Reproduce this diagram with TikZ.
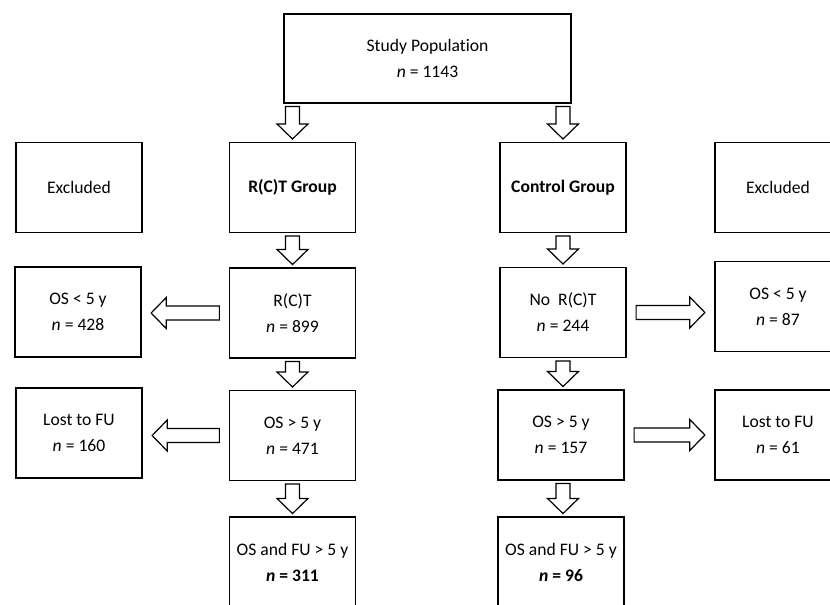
\documentclass[tikz,border=0pt]{standalone}
\usepackage{fontspec}
\setmainfont{Carlito}[Ligatures=NoCommon]
\usetikzlibrary{calc}
\tikzstyle{box}=[draw, line width=1.2pt, minimum width=94.5pt, minimum height=67.5pt, inner sep=2pt, align=center, font=\fontsize{13.2}{19.5}\selectfont]
\tikzstyle{fat}=[draw, line width=0.9pt, fill=white, line join=miter]
% hollow block arrow from #2 to #3, #1 = gap at both ends
\newcommand{\fatarrow}[3][2pt]{%
  \coordinate (fa-s) at ($(#2)!#1!(#3)$);
  \coordinate (fa-e) at ($(#3)!#1!(#2)$);
  \coordinate (fa-h) at ($(fa-e)!11.3pt!(fa-s)$);
  \path[fat] ($(fa-s)!5.3pt!90:(fa-e)$) -- ($(fa-h)!5.3pt!90:(fa-e)$) -- ($(fa-h)!11.6pt!90:(fa-e)$)
    -- (fa-e) -- ($(fa-h)!11.6pt!-90:(fa-e)$) -- ($(fa-h)!5.3pt!-90:(fa-e)$) -- ($(fa-s)!5.3pt!-90:(fa-e)$) -- cycle;}

\begin{document}
\begin{tikzpicture}[x=0.75pt,y=-0.75pt]
                    \node[box, minimum width=215pt, minimum height=66.75pt] (pop) at (427.5,58.5) {Study Population\\\textit{n} = 1143};

                    \node[box] (exl) at (79,187.5) {Excluded};
                    \node[box] (rctg) at (292.5,187.5) {\textbf{R(C)T Group}};
                    \node[box] (ctlg) at (563,187.5) {\textbf{Control Group}};
                    \node[box] (exr) at (778,187.5) {Excluded};

                    \node[box] (osl) at (78,312) {OS < 5 y\\\textit{n} = 428};
                    \node[box] (rct) at (292.5,313) {R(C)T\\\textit{n} = 899};
                    \node[box] (nrct) at (563,312.5) {No~ R(C)T\\\textit{n} = 244};
                    \node[box] (osr) at (778,306.5) {OS < 5 y\\\textit{n} = 87};

                    \node[box] (lostl) at (79,433) {Lost to FU\\\textit{n} = 160};
                    \node[box] (osgl) at (292.5,435.5) {OS > 5 y\\\textit{n} = 471};
                    \node[box] (osgr) at (561,435) {OS > 5 y\\\textit{n} = 157};
                    \node[box] (lostr) at (778,435) {Lost to FU\\\textit{n} = 61};

                    \node[box] (finl) at (292.5,562) {OS and FU > 5 y\\\textbf{\textit{n} = 311}};
                    \node[box] (finr) at (561,562) {OS and FU > 5 y\\\textbf{\textit{n} = 96}};

                    \fatarrow{pop.south -| rctg}{rctg.north}
                    \fatarrow{pop.south -| ctlg}{ctlg.north}
                    \fatarrow{rctg.south}{rct.north}
                    \fatarrow{ctlg.south}{nrct.north}
                    \fatarrow{rct.south}{osgl.north}
                    \fatarrow{nrct.south}{osgr.north -| nrct}
                    \fatarrow{osgl.south}{finl.north}
                    \fatarrow{osgr.south -| nrct}{finr.north -| nrct}

                    \fatarrow[7pt]{rct.west}{osl.east |- rct.west}
                    \fatarrow[7pt]{nrct.east}{osr.west |- nrct.east}
                    \fatarrow[7pt]{osgl.west}{lostl.east |- osgl.west}
                    \fatarrow[7pt]{osgr.east}{lostr.west |- osgr.east}

                    \pgfresetboundingbox
                    \path [use as bounding box] (0,0) rectangle (830,604);
\end{tikzpicture}
\end{document}
